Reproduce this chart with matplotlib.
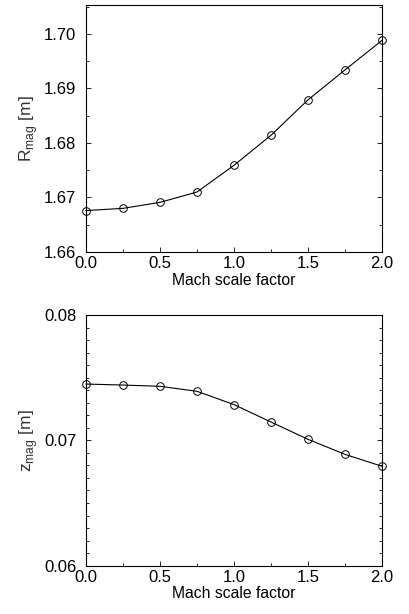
import matplotlib
matplotlib.use("Agg")
import matplotlib.pyplot as plt
from matplotlib.ticker import MultipleLocator, FormatStrFormatter

plt.rcParams['font.family'] = ['Liberation Sans', 'DejaVu Sans']

mach = [0.0, 0.25, 0.5, 0.75, 1.0, 1.25, 1.5, 1.75, 2.0]
r_mag = [1.6676, 1.6680, 1.6691, 1.6710, 1.6759, 1.6814, 1.6879, 1.6934, 1.6988]
z_mag = [0.07449, 0.07441, 0.07431, 0.07391, 0.07285, 0.07146, 0.07008, 0.06888, 0.06793]

fig = plt.figure(figsize=(4.1, 6.14), dpi=100)
ax1 = fig.add_axes([0.2098, 0.5896, 0.7219, 0.4023])
ax2 = fig.add_axes([0.2098, 0.0787, 0.7219, 0.4083])

def style(ax, ymaj, ymin):
    ax.set_xlim(0.0, 2.0)
    ax.xaxis.set_major_locator(MultipleLocator(0.5))
    ax.xaxis.set_minor_locator(MultipleLocator(0.25))
    ax.yaxis.set_major_locator(MultipleLocator(ymaj))
    ax.yaxis.set_minor_locator(MultipleLocator(ymin))
    ax.yaxis.set_major_formatter(FormatStrFormatter('%.2f'))
    ax.tick_params(which='both', direction='in', right=True, top=False, labelsize=12)
    ax.tick_params(axis='x', pad=3)
    ax.tick_params(axis='y', pad=7)
    ax.tick_params(which='major', length=3.5, width=0.6)
    ax.tick_params(which='minor', length=2, width=0.6)
    for s in ax.spines.values():
        s.set_linewidth(0.8)
    ax.set_xlabel('Mach scale factor', fontsize=11.3, labelpad=1)

ax1.plot(mach, r_mag, 'k-', lw=0.8, marker='o', ms=5.5, mfc='none', mec='k', mew=0.7, clip_on=False)
ax1.set_ylim(1.66, 1.7053)
style(ax1, 0.01, 0.005)
ax1.set_ylabel('R$_{\\mathregular{mag}}$ [m]', fontsize=12.5, labelpad=3, color='#333333')

ax2.plot(mach, z_mag, 'k-', lw=0.8, marker='o', ms=5.5, mfc='none', mec='k', mew=0.7, clip_on=False)
ax2.set_ylim(0.06, 0.08)
style(ax2, 0.01, 0.001)
ax2.set_ylabel('z$_{\\mathregular{mag}}$ [m]', fontsize=12.5, labelpad=3, color='#333333')

fig.savefig('out.png', dpi=100)
